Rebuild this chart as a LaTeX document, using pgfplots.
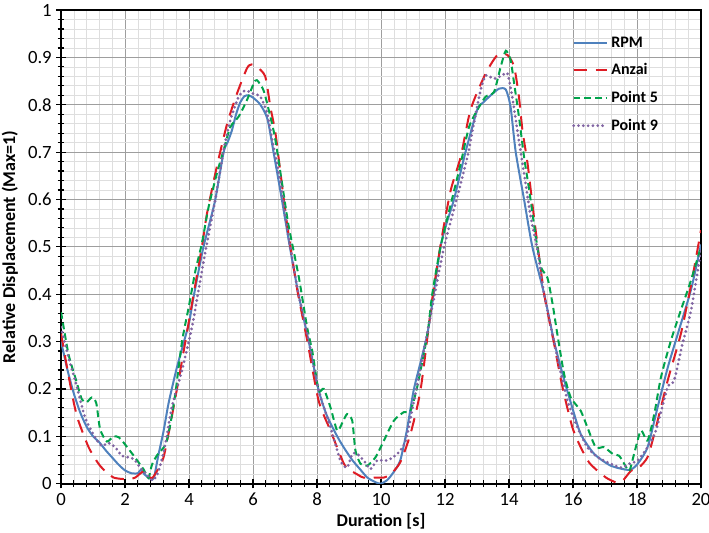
\documentclass[border=0pt]{standalone}
\usepackage{fontspec}
\setmainfont{Carlito}
\usepackage{pgfplots}
\pgfplotsset{compat=1.18}

\definecolor{rpmblue}{RGB}{79,129,189}
\definecolor{anzaired}{RGB}{222,28,36}
\definecolor{ptgreen}{RGB}{0,163,75}
\definecolor{ptpurple}{RGB}{128,100,162}

\begin{document}
\begin{tikzpicture}
\begin{axis}[
    scale only axis, width=479.25pt, height=354.75pt,
    xmin=0, xmax=20, ymin=0, ymax=1,
    xtick={0,2,4,6,8,10,12,14,16,18,20},
    ytick={0,0.1,0.2,0.3,0.4,0.5,0.6,0.7,0.8,0.9,1},
    minor x tick num=4, minor y tick num=4,
    grid=both,
    major grid style={draw=black!38, line width=0.6pt},
    minor grid style={draw=black!13, line width=0.5pt},
    axis line style={black, line width=1.6pt},
    tick align=center, xtick pos=bottom, ytick pos=left,
    major tick length=7pt, minor tick length=5pt,
    every tick/.style={black, line width=0.9pt},
    /pgf/number format/assume math mode=true,
    y tick label style={/pgf/number format/fixed, /pgf/number format/precision=1},
    tick label style={font=\fontsize{14}{16}\selectfont},
    xlabel={Duration [s]}, ylabel={Relative Displacement (Max=1)},
    label style={font=\fontsize{13.5}{15}\selectfont\bfseries},
    xlabel style={at={(axis description cs:0.5,-0.080)}, anchor=center},
    ylabel style={at={(axis description cs:-0.080,0.5)}, anchor=center},
    legend style={at={(rel axis cs:0.792,0.955)}, anchor=north west, draw=none, fill=none,
        font=\fontsize{12}{14}\selectfont\bfseries, row sep=6.8pt},
    legend cell align=left,
    legend image code/.code={\draw[#1] plot coordinates {(0cm,0cm) (0.88cm,0cm)};},
]
\addplot[rpmblue, line width=1.5pt, smooth, tension=0.4] coordinates {
(0,0.30)(0.2,0.24)(0.4,0.19)(0.6,0.15)(0.8,0.12)(1.0,0.10)(1.2,0.087)(1.4,0.07)(1.6,0.055)(1.8,0.04)
(2.0,0.028)(2.2,0.022)(2.4,0.022)(2.5,0.03)(2.6,0.02)(2.8,0.01)(2.9,0.012)(3.04,0.06)(3.2,0.11)(3.36,0.17)
(3.6,0.24)(3.8,0.29)(4.0,0.34)(4.13,0.39)(4.3,0.45)(4.45,0.50)(4.6,0.54)(4.82,0.60)(5.08,0.70)(5.2,0.72)
(5.34,0.746)(5.47,0.78)(5.6,0.805)(5.73,0.818)(5.86,0.82)(6.0,0.815)(6.23,0.80)(6.45,0.77)(6.64,0.70)(6.9,0.60)
(7.15,0.50)(7.42,0.40)(7.74,0.30)(8.04,0.20)(8.3,0.145)(8.63,0.10)(8.85,0.075)(9.1,0.05)(9.35,0.03)(9.57,0.013)
(9.8,0.004)(9.98,0.0)(10.2,0.008)(10.4,0.025)(10.6,0.049)(10.8,0.11)(11.02,0.197)(11.25,0.26)(11.45,0.317)(11.6,0.38)
(11.86,0.50)(12.05,0.55)(12.28,0.60)(12.64,0.70)(13.01,0.79)(13.2,0.805)(13.43,0.82)(13.69,0.834)(13.9,0.832)(14.05,0.795)
(14.21,0.70)(14.47,0.60)(14.73,0.50)(15.1,0.40)(15.41,0.30)(15.72,0.22)(15.98,0.16)(16.24,0.105)(16.66,0.063)(17.18,0.038)
(17.76,0.029)(18.02,0.042)(18.33,0.077)(18.64,0.16)(18.96,0.245)(19.27,0.315)(19.69,0.41)(20,0.505)
};
\addlegendentry{RPM}
\addplot[anzaired, line width=1.5pt, dash pattern=on 10pt off 6.5pt, smooth, tension=0.4] coordinates {
(0,0.317)(0.2,0.24)(0.4,0.17)(0.54,0.133)(0.86,0.077)(1.17,0.042)(1.4,0.025)(1.64,0.013)(1.9,0.01)(2.15,0.01)
(2.32,0.013)(2.58,0.026)(2.75,0.015)(2.85,0.012)(3.0,0.027)(3.2,0.055)(3.4,0.12)(3.67,0.218)(4.04,0.36)(4.4,0.50)
(4.56,0.57)(4.87,0.67)(5.19,0.76)(5.5,0.824)(5.81,0.877)(5.95,0.885)(6.12,0.88)(6.38,0.86)(6.54,0.796)(6.7,0.74)
(6.85,0.66)(7.06,0.55)(7.38,0.41)(7.7,0.30)(8.05,0.175)(8.42,0.112)(8.84,0.042)(9.05,0.028)(9.3,0.018)(9.45,0.013)
(9.93,0.013)(10.09,0.013)(10.3,0.02)(10.6,0.045)(10.92,0.105)(11.24,0.20)(11.6,0.39)(11.9,0.52)(12.18,0.62)(12.49,0.69)
(12.8,0.79)(13.27,0.866)(13.64,0.905)(13.95,0.905)(14.16,0.88)(14.31,0.817)(14.42,0.746)(14.58,0.676)(14.78,0.563)(15.1,0.40)
(15.41,0.295)(15.67,0.204)(15.98,0.119)(16.24,0.077)(16.5,0.045)(16.77,0.027)(17.05,0.012)(17.34,0.003)(17.55,0.006)(17.81,0.027)
(18.06,0.034)(18.33,0.056)(18.54,0.105)(18.96,0.218)(19.37,0.316)(19.69,0.42)(20,0.535)
};
\addlegendentry{Anzai}
\addplot[ptgreen, line width=1.5pt, dash pattern=on 5pt off 3pt, smooth, tension=0.4] coordinates {
(0,0.362)(0.23,0.274)(0.44,0.225)(0.65,0.178)(0.8,0.172)(0.96,0.182)(1.1,0.17)(1.22,0.115)(1.43,0.089)(1.64,0.10)
(1.8,0.098)(1.95,0.087)(2.26,0.06)(2.58,0.03)(2.73,0.012)(2.84,0.04)(3.0,0.06)(3.26,0.082)(3.4,0.12)(3.57,0.19)
(3.78,0.30)(3.99,0.373)(4.2,0.45)(4.4,0.507)(4.61,0.584)(4.87,0.655)(5.08,0.704)(5.29,0.753)(5.55,0.775)(5.81,0.81)
(6.02,0.845)(6.12,0.852)(6.33,0.83)(6.54,0.775)(6.7,0.725)(6.96,0.61)(7.11,0.545)(7.43,0.436)(7.69,0.33)(7.85,0.28)
(8.05,0.197)(8.21,0.20)(8.42,0.161)(8.63,0.112)(8.8,0.13)(8.94,0.147)(9.1,0.133)(9.2,0.07)(9.36,0.042)(9.57,0.038)
(9.83,0.056)(10.09,0.091)(10.4,0.133)(10.71,0.151)(10.92,0.154)(11.13,0.204)(11.45,0.316)(11.6,0.40)(11.86,0.50)(12.18,0.59)
(12.49,0.676)(12.75,0.753)(13.01,0.789)(13.27,0.817)(13.53,0.827)(13.74,0.88)(13.9,0.914)(14.05,0.894)(14.16,0.845)(14.31,0.775)
(14.47,0.69)(14.63,0.62)(14.84,0.52)(15.0,0.457)(15.2,0.435)(15.36,0.38)(15.51,0.316)(15.72,0.232)(15.93,0.182)(16.24,0.154)
(16.45,0.119)(16.71,0.077)(16.97,0.077)(17.24,0.063)(17.44,0.059)(17.6,0.042)(17.76,0.027)(17.91,0.063)(18.12,0.112)(18.33,0.091)
(18.54,0.147)(18.75,0.225)(19.06,0.302)(19.37,0.366)(19.69,0.43)(20,0.50)
};
\addlegendentry{Point 5}
\addplot[ptpurple, line width=2.3pt, line cap=round, dash pattern=on 0pt off 3.6pt, smooth, tension=0.4] coordinates {
(0,0.33)(0.23,0.267)(0.44,0.218)(0.75,0.14)(1.06,0.098)(1.27,0.08)(1.48,0.086)(1.69,0.077)(1.9,0.059)(2.16,0.055)
(2.3,0.05)(2.47,0.034)(2.7,0.018)(2.87,0.007)(3.05,0.027)(3.26,0.084)(3.46,0.161)(3.78,0.24)(4.09,0.33)(4.3,0.41)
(4.51,0.49)(4.82,0.60)(5.08,0.704)(5.29,0.767)(5.55,0.817)(5.76,0.83)(5.97,0.824)(6.23,0.817)(6.44,0.782)(6.6,0.725)
(6.85,0.64)(7.06,0.542)(7.38,0.415)(7.74,0.302)(8.05,0.197)(8.42,0.119)(8.73,0.049)(8.94,0.034)(9.1,0.063)(9.25,0.063)
(9.46,0.049)(9.67,0.031)(9.88,0.049)(10.19,0.049)(10.51,0.063)(10.77,0.091)(11.03,0.175)(11.34,0.281)(11.65,0.39)(11.97,0.50)
(12.38,0.605)(12.7,0.69)(12.9,0.76)(13.11,0.83)(13.27,0.862)(13.53,0.855)(13.79,0.862)(13.95,0.866)(14.1,0.817)(14.26,0.746)
(14.47,0.655)(14.68,0.563)(14.89,0.493)(15.1,0.40)(15.51,0.267)(15.83,0.175)(16.14,0.119)(16.45,0.077)(16.77,0.056)(17.18,0.042)
(17.5,0.034)(17.76,0.042)(18.02,0.049)(18.33,0.077)(18.59,0.112)(18.96,0.204)(19.16,0.218)(19.42,0.295)(19.69,0.366)(20,0.493)
};
\addlegendentry{Point 9}
\end{axis}
\pgfresetboundingbox
\path (-45.75pt,-36.75pt) rectangle (485.25pt,362.25pt);
\end{tikzpicture}
\end{document}
